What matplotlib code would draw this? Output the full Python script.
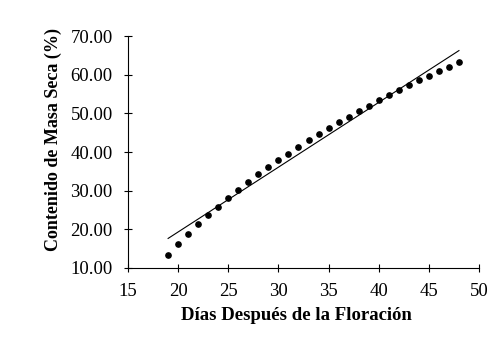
import matplotlib
matplotlib.use("Agg")
import matplotlib.pyplot as plt
import numpy as np

# Days after flowering vs dry matter content
dias = [19, 20, 21, 22, 23, 24, 25, 26, 27, 28, 29, 30, 31, 32, 33,
        34, 35, 36, 37, 38, 39, 40, 41, 42, 43, 44, 45, 46, 47, 48]
masa_seca = [13.4, 16.1, 18.7, 21.3, 23.6, 25.9, 28.2, 30.2, 32.2, 34.2,
             36.2, 38.0, 39.6, 41.4, 43.1, 44.7, 46.3, 47.7, 49.2, 50.6,
             52.0, 53.4, 54.8, 56.1, 57.3, 58.6, 59.8, 60.9, 62.0, 63.2]
x_ticks = [15, 20, 25, 30, 35, 40, 45, 50]
y_ticks = [10, 20, 30, 40, 50, 60, 70]

plt.rcParams['font.family'] = ['Liberation Serif', 'DejaVu Serif']

fig = plt.figure(figsize=(5.0, 3.51), dpi=100)
ax = fig.add_axes([0.256, 0.2365, 0.702, 0.6605])

# linear trend line
x = np.array(dias)
y = np.array(masa_seca)
m, b = np.polyfit(x, y, 1)
xl = np.array([x.min(), x.max()])
ax.plot(xl, m * xl + b, color='black', lw=0.8)

ax.plot(x, y, 'o', color='black', markersize=3.8)

ax.set_xlim(15, 50)
ax.set_ylim(10, 70)
ax.set_xticks(x_ticks)
ax.set_yticks(y_ticks)
ax.set_yticklabels(['%.2f' % v for v in y_ticks])
ax.tick_params(direction='inout', length=6, width=0.8, labelsize=13.5)
ax.tick_params(axis='y', pad=8)
ax.tick_params(axis='x', pad=8)

for s in ['top', 'right']:
    ax.spines[s].set_visible(False)
for s in ['left', 'bottom']:
    ax.spines[s].set_linewidth(0.8)

ax.set_xlabel('Días Después de la Floración', fontsize=13.5, fontweight='bold')
ax.set_ylabel('Contenido de Masa Seca (%)', fontsize=13, fontweight='bold')
ax.xaxis.set_label_coords(0.479, -0.167)
ax.yaxis.set_label_coords(-0.189, 0.556)

fig.savefig('out.png', dpi=100)
